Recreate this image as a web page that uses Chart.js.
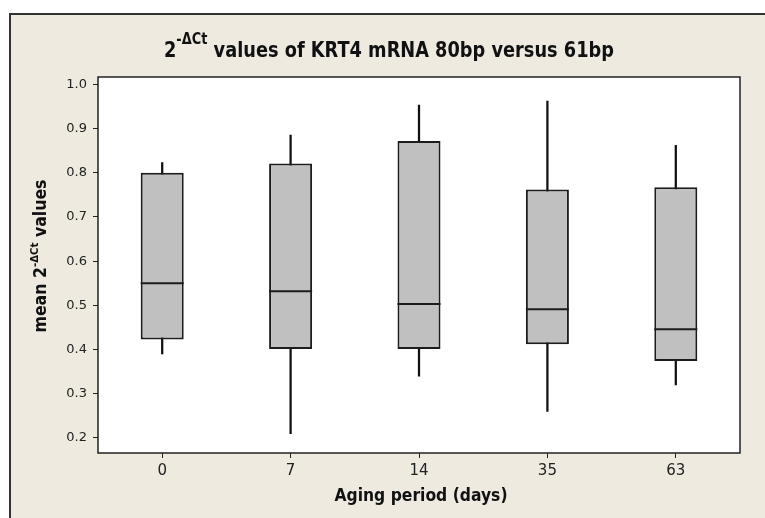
<!DOCTYPE html>
<html>
<head>
<meta charset="utf-8">
<script src="https://cdn.jsdelivr.net/npm/chart.js@4.4.0/dist/chart.umd.min.js"></script>
<style>
  html, body { margin: 0; padding: 0; background: #fff; }
</style>
</head>
<body>
<canvas id="boxChart" width="765" height="518"></canvas>
<script>
// values
const agingDays = ['0', '7', '14', '35', '63'];
const whiskerLow = [0.39, 0.21, 0.34, 0.26, 0.32];
const q1Values = [0.423, 0.401, 0.401, 0.412, 0.374];
const medianValues = [0.550, 0.532, 0.503, 0.491, 0.446];
const q3Values = [0.800, 0.821, 0.872, 0.762, 0.767];
const whiskerHigh = [0.823, 0.885, 0.953, 0.962, 0.862];
const yTickValues = [0.2, 0.3, 0.4, 0.5, 0.6, 0.7, 0.8, 0.9, 1.0];

const FONT_FAMILY = '"DejaVu Sans", Verdana, sans-serif';

// draws text made of pieces (normal + superscript) squeezed to a given width
function drawPieces(ctx, pieces, width) {
  let natural = 0;
  pieces.forEach(p => {
    ctx.font = 'bold ' + p.size + 'px ' + FONT_FAMILY;
    p.w = ctx.measureText(p.text).width;
    natural += p.w;
  });
  let sx = width / natural;
  ctx.save();
  ctx.scale(sx, 1);
  let x = 0;
  pieces.forEach(p => {
    ctx.font = 'bold ' + p.size + 'px ' + FONT_FAMILY;
    ctx.fillText(p.text, x, p.dy || 0);
    x += p.w;
  });
  ctx.restore();
}

const framePlugin = {
  id: 'frame',
  beforeDraw(chart) {
    let ctx = chart.ctx;
    let a = chart.chartArea;
    ctx.save();
    ctx.fillStyle = '#fff';
    ctx.fillRect(0, 0, chart.width, chart.height);
    ctx.fillStyle = '#EEEAE0';
    ctx.fillRect(10, 14, chart.width - 10, chart.height - 14);
    ctx.strokeStyle = '#333';
    ctx.lineWidth = 2;
    ctx.beginPath();
    ctx.moveTo(10, chart.height);
    ctx.lineTo(10, 14);
    ctx.lineTo(chart.width, 14);
    ctx.stroke();
    ctx.fillStyle = '#fff';
    ctx.fillRect(a.left, a.top, a.right - a.left, a.bottom - a.top);
    ctx.restore();
  },
  afterDatasetsDraw(chart) {
    let ctx = chart.ctx;
    let meta = chart.getDatasetMeta(1);
    let yScale = chart.scales.y;
    ctx.save();
    ctx.strokeStyle = '#1c1c1c';
    ctx.lineWidth = 2;
    meta.data.forEach((bar, i) => {
      let y = yScale.getPixelForValue(medianValues[i]);
      ctx.beginPath();
      ctx.moveTo(bar.x - bar.width / 2, y);
      ctx.lineTo(bar.x + bar.width / 2, y);
      ctx.stroke();
    });
    ctx.restore();
  },
  afterDraw(chart) {
    let ctx = chart.ctx;
    let a = chart.chartArea;
    ctx.save();
    ctx.strokeStyle = '#222';
    ctx.lineWidth = 1.5;
    ctx.strokeRect(a.left, a.top, a.right - a.left, a.bottom - a.top);

    ctx.fillStyle = '#111';
    ctx.textBaseline = 'alphabetic';
    ctx.textAlign = 'left';

    // title
    ctx.save();
    ctx.translate(164, 57);
    drawPieces(ctx, [
      { text: '2', size: 22 },
      { text: '-ΔCt', size: 16, dy: -13 },
      { text: ' values of KRT4 mRNA 80bp versus 61bp', size: 22 }
    ], 450);
    ctx.restore();

    // y axis title
    ctx.save();
    ctx.translate(46, 256 + 76.5);
    ctx.rotate(-Math.PI / 2);
    drawPieces(ctx, [
      { text: 'mean 2', size: 17 },
      { text: '-ΔCt', size: 11, dy: -8 },
      { text: ' values', size: 17 }
    ], 153);
    ctx.restore();

    // x axis title
    ctx.save();
    ctx.translate(421 - 86.5, 501);
    drawPieces(ctx, [{ text: 'Aging period (days)', size: 17 }], 173);
    ctx.restore();

    ctx.restore();
  }
};

let ctx = document.getElementById('boxChart').getContext('2d');
let boxChart = new Chart(ctx, {
  type: 'bar',
  data: {
    labels: agingDays,
    datasets: [
      {
        label: 'whiskers',
        data: agingDays.map((d, i) => [whiskerLow[i], whiskerHigh[i]]),
        backgroundColor: '#111',
        borderWidth: 0,
        barThickness: 1.6,
        grouped: false,
        order: 2
      },
      {
        label: 'boxes',
        data: agingDays.map((d, i) => [q1Values[i], q3Values[i]]),
        backgroundColor: '#C0C0C0',
        borderColor: '#1c1c1c',
        borderWidth: 2,
        borderSkipped: false,
        barPercentage: 0.335,
        categoryPercentage: 1,
        grouped: false,
        order: 1
      }
    ]
  },
  options: {
    responsive: false,
    animation: false,
    devicePixelRatio: 1,
    layout: { padding: { left: 0, top: 77, right: 25, bottom: 0 } },
    plugins: {
      legend: { display: false },
      tooltip: { enabled: false },
      title: { display: false }
    },
    scales: {
      x: {
        grid: { offset: false, drawOnChartArea: false, tickLength: 5, color: '#222' },
        border: { display: false },
        ticks: { color: '#222', padding: 4, font: { family: FONT_FAMILY, size: 15 } },
        afterFit(axis) { axis.height = 65; }
      },
      y: {
        min: 0.166,
        max: 1.0165,
        afterBuildTicks(axis) { axis.ticks = yTickValues.map(v => ({ value: v })); },
        grid: { drawOnChartArea: false, tickLength: 5, color: '#222' },
        border: { display: false },
        ticks: {
          color: '#222',
          padding: 6,
          font: { family: FONT_FAMILY, size: 13 },
          callback: v => v.toFixed(1)
        },
        afterFit(axis) { axis.width = 98; }
      }
    }
  },
  plugins: [framePlugin]
});
</script>
</body>
</html>
